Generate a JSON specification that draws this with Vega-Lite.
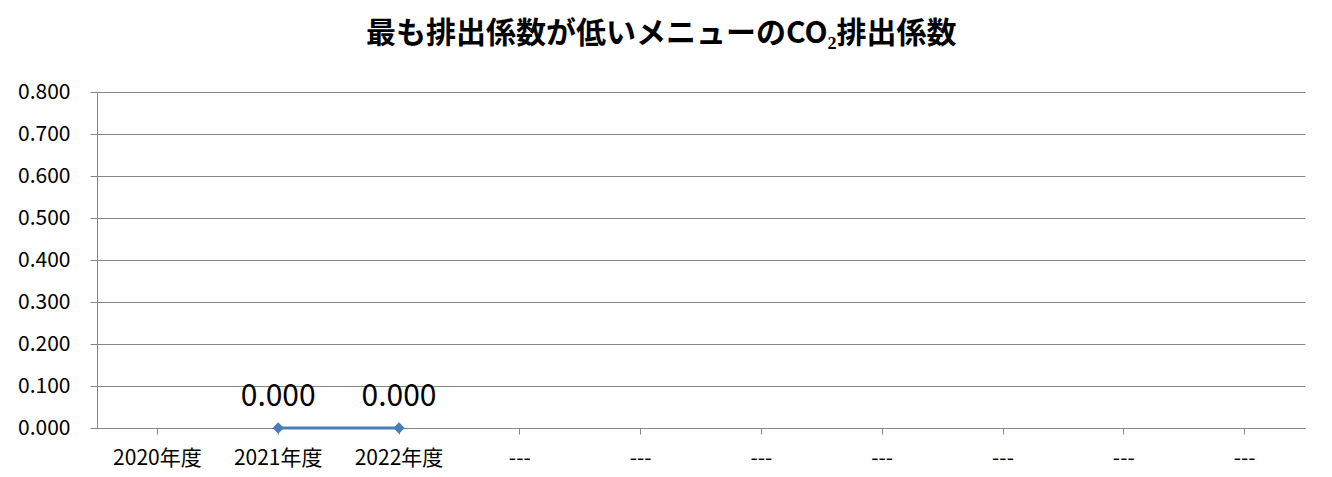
{
  "$schema": "https://vega.github.io/schema/vega-lite/v6.json",
  "autosize": {"type": "none"},
  "width": 1208,
  "height": 336,
  "padding": {"left": 97, "top": 92, "right": 27, "bottom": 49},
  "background": "white",
  "title": {
    "text": "最も排出係数が低いメニューのCO₂排出係数",
    "font": "Noto Sans CJK JP",
    "fontSize": 30,
    "fontWeight": "bold",
    "color": "black",
    "anchor": "middle",
    "frame": "bounds",
    "offset": 32
  },
  "data": {
    "values": [
      {"year": "2021年度", "value": 0},
      {"year": "2022年度", "value": 0}
    ]
  },
  "encoding": {
    "x": {
      "field": "year",
      "type": "ordinal",
      "sort": null,
      "scale": {"type": "band", "paddingInner": 0, "paddingOuter": 0,
        "domain": ["2020年度", "2021年度", "2022年度", "c4", "c5", "c6", "c7", "c8", "c9", "c10"]},
      "axis": {
        "title": null,
        "labelExpr": "indexof(datum.value, '年度') >= 0 ? datum.value : '---'",
        "labelAngle": 0,
        "tickSize": 6,
        "labelPadding": 13,
        "labelFontSize": 21,
        "labelFont": "Noto Sans CJK JP",
        "labelColor": "black",
        "domainColor": "#868686",
        "tickColor": "#868686",
        "grid": false
      }
    },
    "y": {
      "field": "value",
      "type": "quantitative",
      "scale": {"domain": [0, 0.8], "nice": false},
      "axis": {
        "title": null,
        "values": [0, 0.1, 0.2, 0.3, 0.4, 0.5, 0.6, 0.7, 0.8],
        "format": ".3f",
        "tickSize": 7,
        "labelPadding": 20,
        "labelFontSize": 21,
        "labelFont": "Noto Sans CJK JP",
        "labelColor": "black",
        "domainColor": "#868686",
        "tickColor": "#868686",
        "gridColor": "#868686",
        "grid": true
      }
    }
  },
  "layer": [
    {
      "mark": {"type": "line", "color": "#4A7EBB", "strokeWidth": 3},
      "encoding": {}
    },
    {
      "mark": {"type": "point", "shape": "diamond", "filled": true, "color": "#4A7EBB", "size": 130, "opacity": 1}
    },
    {
      "mark": {"type": "text", "fontSize": 30, "font": "Noto Sans CJK JP", "color": "black", "baseline": "alphabetic", "dy": -22},
      "encoding": {"text": {"field": "value", "type": "quantitative", "format": ".3f"}}
    }
  ],
  "config": {"view": {"stroke": null}}
}
